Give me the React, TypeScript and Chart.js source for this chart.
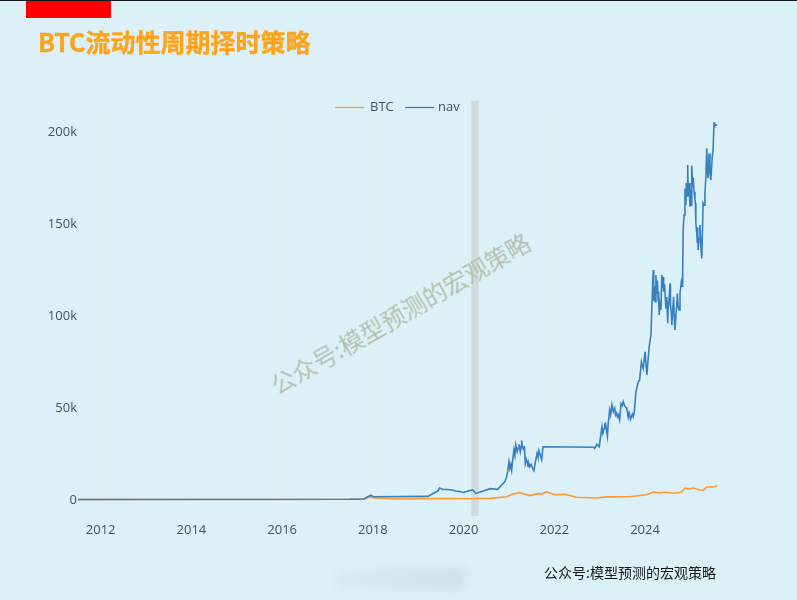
import { useEffect, useRef } from "react"
import { Chart, registerables } from "chart.js"

Chart.register(...registerables)

// values are in thousands, dates are decimal years
const navYears = [
  2011.5, 2017.49, 2017.8, 2017.95, 2018.02, 2019.21, 2019.43, 2019.47, 2019.54, 2019.65, 2019.74, 2019.83, 2019.92,
  2020.0, 2020.14, 2020.2, 2020.27, 2020.36, 2020.44, 2020.58, 2020.75, 2020.91, 2020.95, 2020.97, 2021.0, 2021.02,
  2021.04, 2021.06, 2021.08, 2021.11, 2021.13, 2021.15, 2021.18, 2021.2, 2021.22, 2021.25, 2021.27, 2021.28, 2021.3,
  2021.33, 2021.34, 2021.36, 2021.38, 2021.4, 2021.42, 2021.44, 2021.46, 2021.49, 2021.52, 2021.55, 2021.58, 2021.62,
  2021.64, 2021.66, 2021.69, 2021.72, 2021.75, 2022.87, 2022.89, 2022.94, 2022.99, 2023.05, 2023.07, 2023.1, 2023.11,
  2023.13, 2023.15, 2023.17, 2023.19, 2023.22, 2023.24, 2023.27, 2023.3, 2023.33, 2023.35, 2023.37, 2023.39, 2023.41,
  2023.44, 2023.47, 2023.5, 2023.52, 2023.55, 2023.58, 2023.6, 2023.63, 2023.65, 2023.68, 2023.72, 2023.74, 2023.76,
  2023.8, 2023.85, 2023.88, 2023.92, 2023.96, 2024.0, 2024.04, 2024.09, 2024.13, 2024.15, 2024.18, 2024.19, 2024.21,
  2024.22, 2024.24, 2024.25, 2024.27, 2024.29, 2024.3, 2024.31, 2024.33, 2024.35, 2024.37, 2024.38, 2024.4, 2024.41,
  2024.43, 2024.45, 2024.46, 2024.48, 2024.5, 2024.51, 2024.53, 2024.55, 2024.56, 2024.58, 2024.59, 2024.61, 2024.63,
  2024.64, 2024.66, 2024.68, 2024.7, 2024.71, 2024.73, 2024.75, 2024.77, 2024.8, 2024.82, 2024.83, 2024.84, 2024.86,
  2024.88, 2024.9, 2024.91, 2024.93, 2024.94, 2024.95, 2024.97, 2024.99, 2025.0, 2025.02, 2025.03, 2025.05, 2025.06,
  2025.08, 2025.1, 2025.11, 2025.12, 2025.14, 2025.15, 2025.16, 2025.17, 2025.19, 2025.21, 2025.23, 2025.25, 2025.27,
  2025.28, 2025.3, 2025.32, 2025.34, 2025.36, 2025.37, 2025.39, 2025.41, 2025.43, 2025.45, 2025.47, 2025.48, 2025.5,
  2025.52, 2025.53, 2025.54, 2025.59,
]
const navValues = [
  0, 0.1, 0.3, 2.3, 1.5, 1.7, 4.6, 6.2, 5.4, 5.4, 5.2, 4.6, 4.3, 3.8, 4.9, 5.2, 3.3, 4.1, 4.6, 5.9, 5.5, 9.7, 12.4, 15,
  20.5, 17, 19, 16, 21, 26.9, 24, 29.6, 26, 28, 30, 26, 29, 32, 28, 27, 29, 19.7, 22, 20.5, 18, 19.5, 17.8, 19, 17, 15.7,
  20, 25, 23, 26.5, 24, 21.5, 28.7, 28.4, 27.8, 30, 28.7, 39.6, 36, 38.7, 41, 41.4, 38, 34.5, 42, 48.6, 46, 51.4, 47.7,
  49.6, 46, 47, 45, 46, 43.2, 52.3, 51, 53.2, 51, 50.1, 49, 44.7, 47, 43.6, 46.5, 45, 46.8, 58.6, 64, 65, 74.9, 71.3,
  80.3, 67.7, 83, 89.4, 104.8, 124.7, 108, 116, 107.5, 122, 112, 119, 108, 113, 100.3, 106, 103, 122, 115, 121, 113, 117,
  108, 103.9, 110, 95.8, 104, 109, 117.5, 106, 101, 94.8, 103, 110.2, 101, 92.1, 100, 106, 112, 105, 103, 112, 118.4, 116,
  123.8, 146.5, 154.6, 169.1, 160, 172, 165, 181.8, 165, 172, 159.1, 168, 160, 181.4, 170, 175, 167.3, 163, 161, 150,
  144.7, 140, 148, 135.6, 142, 149.2, 138, 131, 150, 161, 160, 166.4, 175, 190.9, 180, 174.6, 188, 178, 173.6, 182, 186,
  190, 205, 202, 203.5, 203.5,
]

const btcYears = [
  2011.5, 2017.49, 2017.8, 2017.95, 2018.02, 2018.5, 2019.47, 2020.2, 2020.58, 2020.95, 2021.09, 2021.24, 2021.46,
  2021.64, 2021.72, 2021.83, 2022.01, 2022.23, 2022.49, 2022.93, 2023.15, 2023.66, 2024.03, 2024.18, 2024.3, 2024.47,
  2024.6, 2024.8, 2024.88, 2024.98, 2025.06, 2025.21, 2025.28, 2025.36, 2025.47, 2025.52, 2025.59,
]
const btcValues = [
  0, 0.1, 0.3, 1.4, 0.8, 0.4, 0.5, 0.4, 0.6, 1.5, 3, 3.7, 2.1, 3.2, 2.9, 4.1, 2.6, 2.8, 1.2, 0.8, 1.4, 1.5, 2.6, 4.1, 3.6,
  3.9, 3.4, 3.9, 6.2, 5.8, 6.2, 5.2, 5, 6.8, 6.8, 6.9, 7.5,
]

const xTicks = [2012, 2014, 2016, 2018, 2020, 2022, 2024]
const yTicks = [0, 50, 100, 150, 200]
const bandRange = [2020.17, 2020.33]

const tickFont = { family: "'Open Sans', sans-serif", size: 13 }
const tickColor = "#46525e"
const gridColor = "#e4eff4"

const bandPlugin = {
  id: "band",
  beforeDatasetsDraw(chart: Chart) {
    const { ctx, chartArea, scales } = chart
    const left = scales.x.getPixelForValue(bandRange[0])
    const right = scales.x.getPixelForValue(bandRange[1])
    ctx.save()
    ctx.fillStyle = "#d2dadd"
    ctx.fillRect(left, chartArea.top, right - left, chartArea.bottom - chartArea.top)
    ctx.restore()
  },
}

// plotly-style legend sitting inside the top of the plot area
const insideLegendPlugin = {
  id: "insideLegend",
  afterDraw(chart: Chart) {
    const { ctx } = chart
    const starts = [335, 405]
    const legendY = 107.5
    ctx.save()
    ctx.font = "13px 'Open Sans', sans-serif"
    ctx.textBaseline = "middle"
    chart.data.datasets.forEach((ds, i) => {
      ctx.strokeStyle = ds.borderColor as string
      ctx.lineWidth = 1.3
      ctx.beginPath()
      ctx.moveTo(starts[i], legendY)
      ctx.lineTo(starts[i] + 29, legendY)
      ctx.stroke()
      ctx.fillStyle = tickColor
      ctx.fillText(ds.label as string, starts[i] + (i === 0 ? 35 : 33), legendY)
    })
    ctx.restore()
  },
}

export default function App() {
  const chartRef = useRef<HTMLCanvasElement>(null)

  useEffect(() => {
    if (!chartRef.current) return

    const chart = new Chart(chartRef.current, {
      type: "scatter",
      plugins: [bandPlugin, insideLegendPlugin],
      data: {
        datasets: [
          {
            label: "BTC",
            data: btcYears.map((x, i) => ({ x, y: btcValues[i] })),
            borderColor: "rgb(255, 153, 51)",
            backgroundColor: "rgb(255, 153, 51)",
            borderWidth: 1.6,
            showLine: true,
            pointRadius: 0,
            order: 2,
          },
          {
            label: "nav",
            data: navYears.map((x, i) => ({ x, y: navValues[i] })),
            borderColor: "rgb(55, 128, 191)",
            backgroundColor: "rgb(55, 128, 191)",
            borderWidth: 1.6,
            showLine: true,
            pointRadius: 0,
            order: 1,
          },
        ],
      },
      options: {
        responsive: false,
        animation: false,
        layout: { padding: { top: 101, right: 78, left: 0, bottom: 0 } },
        scales: {
          x: {
            type: "linear",
            min: 2011.5,
            max: 2025.63,
            afterBuildTicks: (scale) => {
              scale.ticks = xTicks.map((value) => ({ value }))
            },
            afterFit: (scale) => {
              scale.height = 84
            },
            grid: { color: gridColor, tickLength: 0 },
            border: { display: false },
            ticks: {
              font: tickFont,
              color: tickColor,
              padding: 6,
              maxRotation: 0,
              autoSkip: false,
              callback: (value) => String(value),
            },
          },
          y: {
            min: -8.97,
            max: 216.6,
            afterBuildTicks: (scale) => {
              scale.ticks = yTicks.map((value) => ({ value }))
            },
            afterFit: (scale) => {
              scale.width = 78
            },
            grid: { color: gridColor, tickLength: 0 },
            border: { display: false },
            ticks: {
              font: tickFont,
              color: tickColor,
              padding: 1,
              labelOffset: 1,
              callback: (value) => (value === 0 ? "0" : `${value}k`),
            },
          },
        },
        plugins: {
          tooltip: { enabled: false },
          legend: { display: false },
        },
      },
    })

    return () => chart.destroy()
  }, [])

  return (
    <div
      style={{
        position: "absolute",
        left: 0,
        top: 0,
        width: 797,
        height: 600,
        overflow: "hidden",
        background: "#dcf0f8",
        fontFamily: "'Noto Sans CJK SC', sans-serif",
      }}
    >
      <canvas ref={chartRef} width={797} height={600} style={{ display: "block", position: "absolute", left: 0, top: 0 }} />
      <div style={{ position: "absolute", left: 0, top: 0, width: 797, height: 1, background: "#10151c" }} />
      <div style={{ position: "absolute", left: 26, top: 1, width: 85, height: 17, background: "#ff0000" }} />
      <div
        style={{
          position: "absolute",
          left: 38,
          top: 23,
          fontSize: 25,
          lineHeight: "36px",
          fontWeight: 700,
          color: "#ffa319",
          WebkitTextStroke: "0.4px #ffa319",
          whiteSpace: "nowrap",
        }}
      >
        BTC流动性周期择时策略
      </div>
      <div
        style={{
          position: "absolute",
          left: 400,
          top: 313,
          fontSize: 24,
          lineHeight: "30px",
          color: "#b3bfae",
          whiteSpace: "nowrap",
          transform: "translate(-50%, -50%) rotate(-30deg)",
        }}
      >
        公众号:模型预测的宏观策略
      </div>
      <div
        style={{
          position: "absolute",
          left: 335,
          top: 568,
          width: 130,
          height: 22,
          background: "linear-gradient(90deg, rgba(185,205,215,0.1), rgba(170,190,200,0.3))",
          filter: "blur(4px)",
        }}
      />
      <div
        style={{
          position: "absolute",
          left: 544,
          top: 562,
          fontSize: 14,
          lineHeight: "20px",
          color: "#15181a",
          whiteSpace: "nowrap",
        }}
      >
        公众号:模型预测的宏观策略
      </div>
    </div>
  )
}
